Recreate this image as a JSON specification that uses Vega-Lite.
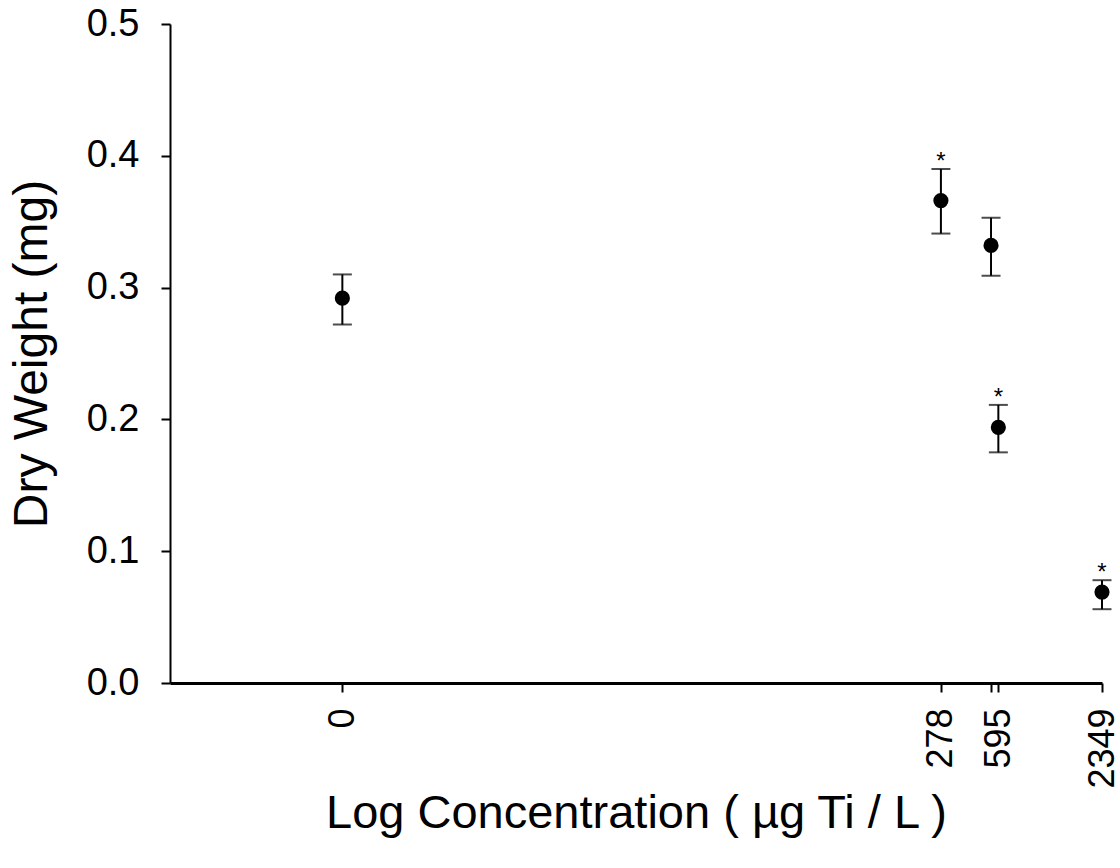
{
  "$schema": "https://vega.github.io/schema/vega-lite/v6.json",
  "width": 932,
  "height": 659,
  "autosize": {"type": "none"},
  "padding": {"left": 170, "top": 24, "right": 18, "bottom": 185},
  "background": "white",
  "config": {
    "view": {"stroke": null},
    "font": "Liberation Sans",
    "axis": {
      "grid": false,
      "domainColor": "black",
      "tickColor": "black",
      "labelColor": "black",
      "titleColor": "black",
      "labelFont": "Liberation Sans",
      "titleFont": "Liberation Sans",
      "titleFontWeight": "normal"
    },
    "axisY": {
      "labelFontSize": 38,
      "labelPadding": 22,
      "domainWidth": 2,
      "tickWidth": 2,
      "tickSize": 9,
      "titleFontSize": 48,
      "titlePadding": 30
    }
  },
  "data": {
    "values": [
      {"conc": 0, "logc": -1, "mean": 0.292, "lo": 0.272, "hi": 0.310, "sig": ""},
      {"conc": 278, "logc": 2.444, "mean": 0.366, "lo": 0.341, "hi": 0.390, "sig": "*"},
      {"conc": 540, "logc": 2.7324, "mean": 0.332, "lo": 0.309, "hi": 0.353, "sig": ""},
      {"conc": 595, "logc": 2.7745, "mean": 0.194, "lo": 0.175, "hi": 0.211, "sig": "*"},
      {"conc": 2349, "logc": 3.3709, "mean": 0.069, "lo": 0.056, "hi": 0.078, "sig": "*"}
    ]
  },
  "encoding": {
    "x": {
      "field": "logc",
      "type": "quantitative",
      "scale": {"domain": [-1.9917, 3.3709], "nice": false, "zero": false},
      "axis": {
        "title": "Log Concentration ( µg Ti / L )",
        "values": [-1, 2.444, 2.7324, 2.7745, 3.3709],
        "labelExpr": "datum.value < 0 ? '0' : datum.value < 2.5 ? '278' : datum.value < 2.75 ? '' : datum.value < 3 ? '595' : '2349'",
        "labelAngle": -90,
        "labelFontSize": 36,
        "labelPadding": 16,
        "labelOverlap": false,
        "labelBound": false,
        "labelFlush": false,
        "domainWidth": 3,
        "tickWidth": 2,
        "tickSize": 9,
        "titleFontSize": 47,
        "titlePadding": 2
      }
    }
  },
  "layer": [
    {
      "mark": {"type": "rule", "color": "black", "strokeWidth": 2},
      "encoding": {
        "y": {"field": "lo", "type": "quantitative", "scale": {"domain": [0, 0.5], "nice": false}, "title": "Dry Weight (mg)", "axis": {"values": [0, 0.1, 0.2, 0.3, 0.4, 0.5], "format": ".1f"}},
        "y2": {"field": "hi"}
      }
    },
    {
      "mark": {"type": "tick", "color": "black", "orient": "horizontal", "size": 19, "thickness": 2},
      "encoding": {
        "y": {"field": "lo", "type": "quantitative", "scale": {"domain": [0, 0.5], "nice": false}, "title": "Dry Weight (mg)", "axis": {"values": [0, 0.1, 0.2, 0.3, 0.4, 0.5], "format": ".1f"}}
      }
    },
    {
      "mark": {"type": "tick", "color": "black", "orient": "horizontal", "size": 19, "thickness": 2},
      "encoding": {
        "y": {"field": "hi", "type": "quantitative", "scale": {"domain": [0, 0.5], "nice": false}, "title": "Dry Weight (mg)", "axis": {"values": [0, 0.1, 0.2, 0.3, 0.4, 0.5], "format": ".1f"}}
      }
    },
    {
      "mark": {"type": "point", "filled": true, "color": "black", "opacity": 1, "size": 230},
      "encoding": {
        "y": {"field": "mean", "type": "quantitative", "scale": {"domain": [0, 0.5], "nice": false}, "title": "Dry Weight (mg)", "axis": {"values": [0, 0.1, 0.2, 0.3, 0.4, 0.5], "format": ".1f"}}
      }
    },
    {
      "mark": {"type": "text", "color": "black", "fontSize": 24, "baseline": "alphabetic", "dy": 0},
      "encoding": {
        "y": {"field": "hi", "type": "quantitative", "scale": {"domain": [0, 0.5], "nice": false}, "title": "Dry Weight (mg)", "axis": {"values": [0, 0.1, 0.2, 0.3, 0.4, 0.5], "format": ".1f"}},
        "text": {"field": "sig"}
      }
    }
  ]
}
